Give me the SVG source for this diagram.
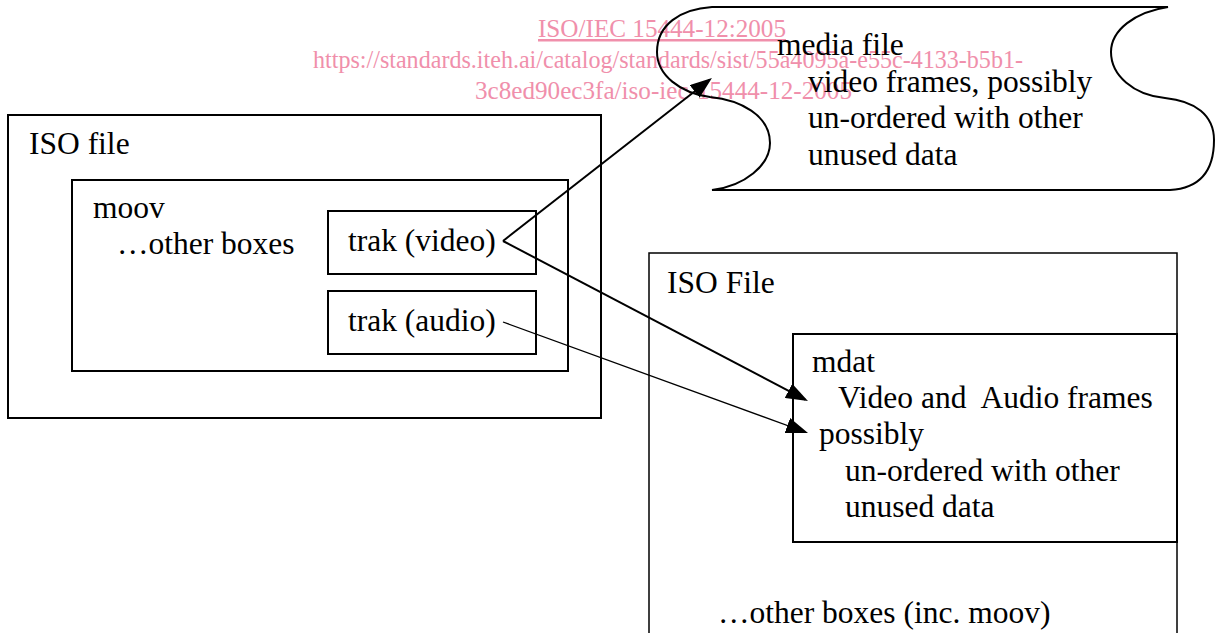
<svg xmlns="http://www.w3.org/2000/svg" width="1215" height="633" viewBox="0 0 1215 633">
  <style>
    .box { fill: none; stroke: #000; stroke-width: 2; }
    .thin { fill: none; stroke: #000; stroke-width: 1.5; }
    .t { font-family: "Liberation Serif", "Times New Roman", serif; font-size: 31.5px; fill: #000; }
    .wm { font-family: "Liberation Serif", "Times New Roman", serif; font-size: 25px; fill: #f08fab; }
    .c { fill: none; stroke: #000; }
  </style>
  <defs>
    <marker id="arr" markerUnits="userSpaceOnUse" markerWidth="22" markerHeight="16" refX="19" refY="8" orient="auto">
      <path d="M0,0 L22,8 L0,16 z" fill="#000"/>
    </marker>
  </defs>
  <rect width="1215" height="633" fill="#fff"/>

  <g id="iso-file-left">
    <rect class="box" x="8" y="115" width="593" height="303"/>
    <text class="t" x="29" y="154">ISO file</text>
  </g>
  <g id="moov">
    <rect class="box" x="72" y="180" width="496" height="191"/>
    <text class="t" x="93" y="218">moov</text>
    <text class="t" x="117" y="254">…other boxes</text>
  </g>
  <g id="trak-video">
    <rect class="box" x="328" y="211" width="208" height="63"/>
    <text class="t" x="348" y="251">trak (video)</text>
  </g>
  <g id="trak-audio">
    <rect class="box" x="328" y="291" width="208" height="63"/>
    <text class="t" x="348" y="331">trak (audio)</text>
  </g>

  <g id="iso-file-right">
    <rect class="thin" x="649" y="253" width="528" height="390"/>
    <text class="t" x="667" y="293">ISO File</text>
    <text class="t" x="718" y="623">…other boxes (inc. moov)</text>
  </g>
  <g id="mdat">
    <rect class="box" x="793" y="334" width="384" height="208"/>
    <text class="t" x="812" y="372">mdat</text>
    <text class="t" x="838" y="408" xml:space="preserve">Video and  Audio frames</text>
    <text class="t" x="819" y="444">possibly</text>
    <text class="t" x="845" y="481">un-ordered with other</text>
    <text class="t" x="845" y="517">unused data</text>
  </g>

  <g id="watermark">
    <text class="wm" x="538" y="37" textLength="248" lengthAdjust="spacingAndGlyphs" text-decoration="underline">ISO/IEC 15444-12:2005</text>
    <text class="wm" x="313" y="68" textLength="710" lengthAdjust="spacingAndGlyphs">https://standards.iteh.ai/catalog/standards/sist/55a4095a-e55c-4133-b5b1-</text>
    <text class="wm" x="475" y="99" textLength="377" lengthAdjust="spacingAndGlyphs">3c8ed90ec3fa/iso-iec-15444-12-2005</text>
  </g>

  <g id="media-file">
    <path class="box" d="M712,7 L1168,7 C1135,12 1111,30 1111,52 C1111,75 1133,95 1165,98 C1195,101 1214,115 1214,140 C1214,165 1205,188 1170,190 L712,190 C745,186 770,165 770,143 C770,115 740,100 710,97 C680,93 657,75 657,52 C657,25 680,9 712,7 Z"/>
    <text class="t" x="777" y="55">media file</text>
    <text class="t" x="808" y="92">video frames, possibly</text>
    <text class="t" x="808" y="128">un-ordered with other</text>
    <text class="t" x="808" y="165">unused data</text>
  </g>

  <g id="connectors">
    <line class="c" stroke-width="2" x1="503" y1="241" x2="709.6" y2="79.8" marker-end="url(#arr)"/>
    <line class="c" stroke-width="2" x1="503" y1="241" x2="805.3" y2="399.6" marker-end="url(#arr)"/>
    <line class="c" stroke-width="1.3" x1="503" y1="322" x2="805.2" y2="432" marker-end="url(#arr)"/>
  </g>
</svg>
